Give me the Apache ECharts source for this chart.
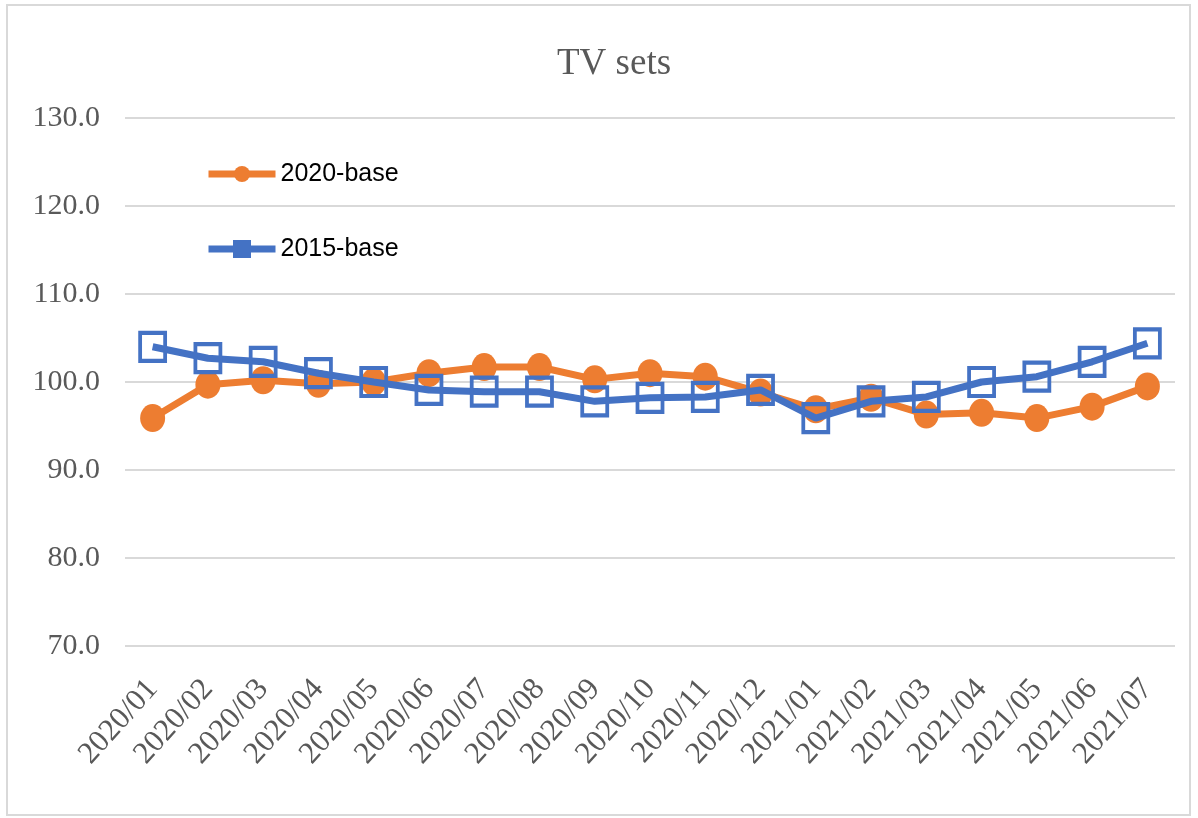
<!DOCTYPE html>
<html>
<head>
<meta charset="utf-8">
<script src="https://cdn.jsdelivr.net/npm/echarts@6/dist/echarts.min.js"></script>
<style>
  html, body { margin: 0; padding: 0; background: #ffffff; }
  #chart { width: 1198px; height: 818px; }
</style>
</head>
<body>
<div id="chart"></div>
<script>
// Monthly index of TV set prices, two base years
const months = [
  '2020/01', '2020/02', '2020/03', '2020/04', '2020/05', '2020/06', '2020/07',
  '2020/08', '2020/09', '2020/10', '2020/11', '2020/12', '2021/01', '2021/02',
  '2021/03', '2021/04', '2021/05', '2021/06', '2021/07'
];
const base2020 = [
  95.9, 99.7, 100.2, 99.8, 100.0, 101.0, 101.7, 101.7, 100.3, 101.0,
  100.6, 98.8, 96.9, 98.2, 96.3, 96.5, 95.9, 97.2, 99.5
];
const base2015 = [
  104.0, 102.7, 102.3, 101.0, 100.0, 99.1, 98.9, 98.9, 97.8, 98.2,
  98.3, 99.1, 95.9, 97.8, 98.3, 100.0, 100.6, 102.3, 104.4
];
const seriesNames = ['2020-base', '2015-base'];

const ORANGE = '#ED7D31';
const BLUE = '#4472C4';
const SERIF = '"Liberation Serif", "DejaVu Serif", serif';
const SANS = '"Liberation Sans", Arial, sans-serif';

const chart = echarts.init(document.getElementById('chart'));
chart.setOption({
  animation: false,
  backgroundColor: '#ffffff',
  graphic: [{
    type: 'rect',
    shape: { x: 7, y: 5, width: 1183, height: 810 },
    style: { fill: 'none', stroke: '#d9d9d9', lineWidth: 2 },
    silent: true
  }],
  title: {
    text: 'TV sets',
    left: 552,
    top: 41,
    textStyle: { fontFamily: SERIF, fontSize: 37, fontWeight: 'normal', color: '#595959' }
  },
  legend: {
    orient: 'vertical',
    left: 200,
    top: 156,
    itemWidth: 67,
    itemHeight: 20,
    itemGap: 49,
    textStyle: { fontFamily: SANS, fontSize: 25, lineHeight: 26, color: '#000000' },
    data: [
      { name: seriesNames[0], itemStyle: { color: ORANGE }, lineStyle: { width: 7 } },
      { name: seriesNames[1], itemStyle: { color: BLUE, borderColor: BLUE }, lineStyle: { width: 7 } }
    ]
  },
  grid: { left: 125, right: 23, top: 118, bottom: 172, containLabel: false },
  xAxis: {
    type: 'category',
    data: months,
    boundaryGap: true,
    axisLine: { show: false },
    axisTick: { show: false },
    axisLabel: {
      rotate: 48,
      margin: 38,
      fontFamily: SERIF,
      fontSize: 31,
      color: '#595959',
      interval: 0
    }
  },
  yAxis: {
    type: 'value',
    min: 70,
    max: 130,
    interval: 10,
    axisLine: { show: false },
    axisTick: { show: false },
    splitLine: { lineStyle: { color: '#d9d9d9', width: 2 } },
    axisLabel: {
      margin: 25,
      fontFamily: SERIF,
      fontSize: 30,
      color: '#595959',
      formatter: v => v.toFixed(1)
    }
  },
  series: [
    {
      name: seriesNames[0],
      type: 'line',
      data: base2020,
      symbol: 'circle',
      symbolSize: [25, 28],
      lineStyle: { color: ORANGE, width: 7 },
      itemStyle: { color: ORANGE },
      z: 2
    },
    {
      name: seriesNames[1],
      type: 'line',
      data: base2015,
      symbol: 'rect',
      symbolSize: [25, 28],
      lineStyle: { color: BLUE, width: 7 },
      itemStyle: { color: 'rgba(255,255,255,0)', borderColor: BLUE, borderWidth: 4 },
      z: 3
    }
  ]
});
</script>
</body>
</html>
